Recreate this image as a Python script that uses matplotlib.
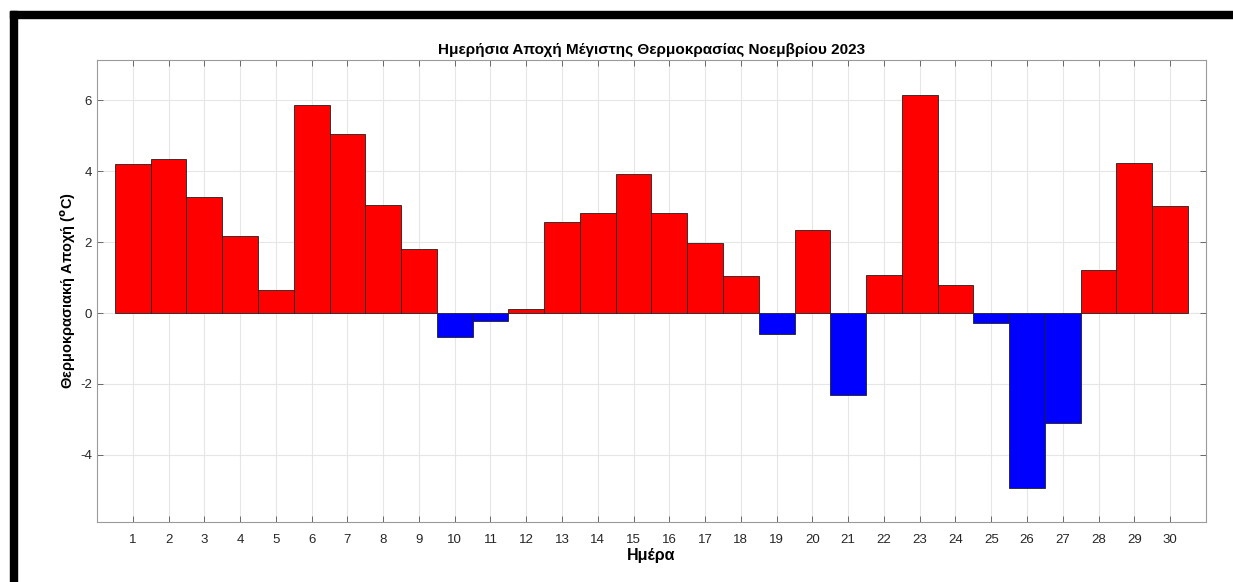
import matplotlib
matplotlib.use("Agg")

import matplotlib.pyplot as plt
from matplotlib.patches import Rectangle

plt.rcParams['font.family'] = ['Liberation Sans', 'DejaVu Sans']
plt.rcParams['axes.unicode_minus'] = False

# Days of November 2023
days = list(range(1, 31))
# Daily anomaly of maximum temperature (deg C)
anomaly = [4.20, 4.33, 3.27, 2.16, 0.65, 5.87, 5.04, 3.03, 1.79, -0.67,
           -0.22, 0.12, 2.57, 2.81, 3.91, 2.81, 1.96, 1.05, -0.60, 2.34,
           -2.32, 1.07, 6.13, 0.78, -0.29, -4.94, -3.09, 1.21, 4.24, 3.01]
y_ticks = [-4, -2, 0, 2, 4, 6]

title = 'Ημερήσια Αποχή Μέγιστης Θερμοκρασίας Νοεμβρίου 2023'
x_label = 'Ημέρα'
y_label = r'Θερμοκρασιακή Αποχή ($^{\mathbf{o}}$C)'


def main():
    fig = plt.figure(figsize=(12.33, 5.82), dpi=100)
    ax = fig.add_axes([0.0787, 0.1036, 0.8993, 0.7934])

    colors = ['red' if v >= 0 else 'blue' for v in anomaly]
    ax.bar(days, anomaly, width=1.0, color=colors, edgecolor='#202020',
           linewidth=0.6, zorder=3)

    ax.set_xlim(0, 31)
    ax.set_ylim(-5.88, 7.13)
    ax.set_xticks(days)
    ax.set_yticks(y_ticks)
    ax.grid(True, color='#e6e6e6', linewidth=0.8, zorder=0)
    ax.set_axisbelow(True)

    ax.tick_params(axis='both', direction='in', top=True, right=True,
                   labelsize=9.5, labelcolor='#262626', color='#555555',
                   length=4, width=0.6)
    ax.tick_params(axis='x', pad=9)
    for s in ax.spines.values():
        s.set_color('#9a9a9a')
        s.set_linewidth(0.8)

    ax.set_title(title, fontsize=11, fontweight='bold', pad=4)
    ax.set_xlabel(x_label, fontsize=11.5, fontweight='bold', labelpad=1)
    ax.set_ylabel(y_label, fontsize=10.5, fontweight='bold', labelpad=2)

    # black frame at the top and left of the picture
    fig.patches.append(Rectangle((10 / 1233, 1 - 18 / 582), 1.0, 7 / 582,
                                 transform=fig.transFigure, color='black'))
    fig.patches.append(Rectangle((10 / 1233, 0), 7 / 1233, 1 - 11 / 582,
                                 transform=fig.transFigure, color='black'))

    fig.savefig('out.png', dpi=100)


if __name__ == "__main__":
    main()
